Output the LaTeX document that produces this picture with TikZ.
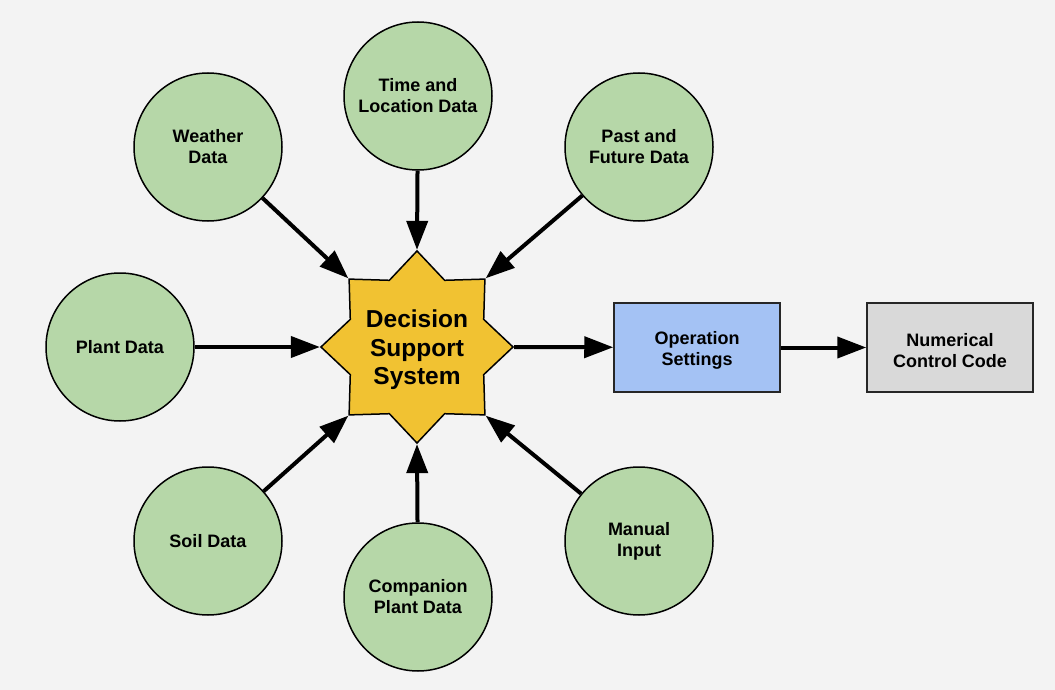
\documentclass[tikz,border=0pt]{standalone}
\usepackage{xcolor}
\usepackage{fontspec}
\setmainfont{Liberation Sans}
\usepackage{tikz}
\usetikzlibrary{arrows.meta}
\usetikzlibrary{shapes}
\usetikzlibrary{shapes.geometric}

\definecolor{bggrey}{HTML}{F3F3F3}
\definecolor{datagreen}{HTML}{B6D7A8}
\definecolor{dssyellow}{HTML}{F1C232}
\definecolor{opsblue}{HTML}{A4C2F4}
\definecolor{codegrey}{HTML}{D9D9D9}

\tikzset{
 datanode/.style={circle, draw=black, line width=1.5pt, fill=datagreen, minimum size=148pt, inner sep=0pt, align=center, font=\fontsize{18}{21}\selectfont\bfseries},
 boxnode/.style={rectangle, draw=black!85, line width=1.5pt, minimum width=166pt, minimum height=89pt, inner sep=0pt, text height=40pt, align=center, font=\fontsize{18}{21}\selectfont\bfseries},
 flow/.style={-{Triangle[length=29pt,width=21pt]}, line width=4pt, draw=black}
}

\begin{document}
\begin{tikzpicture}[x=1pt, y=-1pt]
 \useasboundingbox [fill=bggrey] (0, 0) rectangle (1055, 690);
 \node [star, star points=8, star point ratio=1.33, minimum size=177pt, inner sep=0pt, text height=81pt, draw=black, line width=1.5pt, fill=dssyellow, align=center, font=\fontsize{24.5}{28.5}\selectfont\bfseries] (dss) at (417, 347) {Decision\\Support\\System};
 \node [datanode] (weather) at (208, 147) {Weather\\Data};
 \node [datanode] (time) at (418, 96) {Time and\\Location Data};
 \node [datanode] (past) at (639, 147) {Past and\\Future Data};
 \node [datanode] (plant) at (120, 347) {Plant Data};
 \node [datanode] (soil) at (208, 541) {Soil Data};
 \node [datanode] (companion) at (418, 597) {Companion\\Plant Data};
 \node [datanode] (manual) at (639, 541) {Manual\\Input};
 \node [boxnode, fill=opsblue] (ops) at (697, 347.5) {Operation\\Settings};
 \node [boxnode, fill=codegrey] (ncc) at (950, 347.5) {Numerical\\Control Code};
 \draw [flow] (weather) -- (dss.outer point 2);
 \draw [flow] (time) -- (dss.outer point 1);
 \draw [flow] (past) -- (dss.outer point 8);
 \draw [flow] (plant) -- (dss.outer point 3);
 \draw [flow] (soil) -- (dss.outer point 4);
 \draw [flow] (companion) -- (dss.outer point 5);
 \draw [flow] (manual) -- (dss.outer point 6);
 \draw [flow] (dss.outer point 7) -- (ops);
 \draw [flow] (ops) -- (ncc);
\end{tikzpicture}
\end{document}
